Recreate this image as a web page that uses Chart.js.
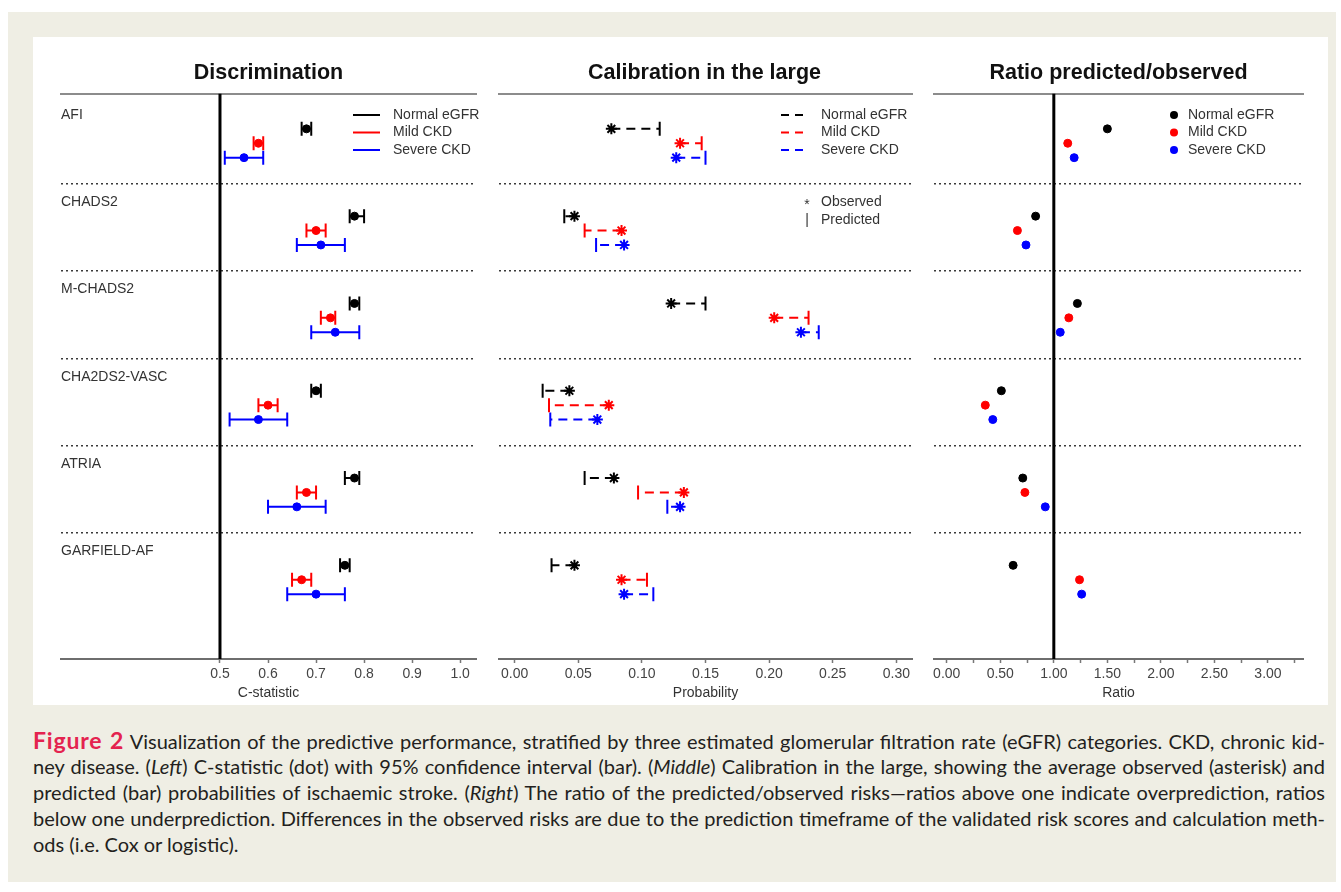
<!DOCTYPE html>
<html>
<head>
<meta charset="utf-8">
<title>Figure 2</title>
<script src="https://cdn.jsdelivr.net/npm/chart.js@4.4.1/dist/chart.umd.min.js"></script>
<style>
  html, body { margin: 0; padding: 0; background: #ffffff; }
  body { position: relative; width: 1341px; height: 892px; overflow: hidden; }
  #frame { position: absolute; left: 8px; top: 12px; width: 1328px; height: 870px; background: #efeee4; }
  #plot { position: absolute; left: 33px; top: 37px; width: 1295px; height: 668px; background: #ffffff; }
  canvas { position: absolute; top: 37px; }
  #caption {
    position: absolute; left: 33px; top: 727px; width: 1292px;
    font-family: Lato, "Open Sans", sans-serif; font-size: 20px; line-height: 26px; color: #231f20;
  }
  #caption .cl { display: block; height: 26px; }
  #caption .just, #caption .last { display: inline-block; white-space: nowrap; }
  #caption .fig { color: #e4234f; font-weight: bold; font-size: 23px; letter-spacing: 0.8px; }
</style>
</head>
<body>
<div id="frame"></div>
<div id="plot"></div>
<canvas id="discrimination" width="457" height="668" style="left:33px"></canvas>
<canvas id="calibration" width="435" height="668" style="left:490px"></canvas>
<canvas id="ratio" width="403" height="668" style="left:925px"></canvas>

<div id="caption">
  <div class="cl"><span class="just"><span class="fig">Figure 2</span> Visualization of the predictive performance, stratified by three estimated glomerular filtration rate (eGFR) categories. CKD, chronic kid-</span></div>
  <div class="cl"><span class="just">ney disease. (<i>Left</i>) C-statistic (dot) with 95% confidence interval (bar). (<i>Middle</i>) Calibration in the large, showing the average observed (asterisk) and</span></div>
  <div class="cl"><span class="just">predicted (bar) probabilities of ischaemic stroke. (<i>Right</i>) The ratio of the predicted/observed risks—ratios above one indicate overprediction, ratios</span></div>
  <div class="cl"><span class="just">below one underprediction. Differences in the observed risks are due to the prediction timeframe of the validated risk scores and calculation meth-</span></div>
  <div class="cl"><span class="last">ods (i.e. Cox or logistic).</span></div>
</div>

<script>
// ---- data ----
const SCORES = ["AFI", "CHADS2", "M-CHADS2", "CHA2DS2-VASC", "ATRIA", "GARFIELD-AF"];
const GROUPS = ["Normal eGFR", "Mild CKD", "Severe CKD"];
const GROUP_COLORS = ["#000000", "#ff0000", "#0000ff"];

// Discrimination: C-statistic and 95% CI
const cstatNormal = [0.68, 0.78, 0.78, 0.70, 0.78, 0.76];
const cstatNormalLow = [0.67, 0.77, 0.77, 0.69, 0.76, 0.75];
const cstatNormalHigh = [0.69, 0.80, 0.79, 0.71, 0.79, 0.77];
const cstatMild = [0.58, 0.70, 0.73, 0.60, 0.68, 0.67];
const cstatMildLow = [0.57, 0.68, 0.71, 0.58, 0.66, 0.65];
const cstatMildHigh = [0.59, 0.72, 0.74, 0.62, 0.70, 0.69];
const cstatSevere = [0.55, 0.71, 0.74, 0.58, 0.66, 0.70];
const cstatSevereLow = [0.51, 0.66, 0.69, 0.52, 0.60, 0.64];
const cstatSevereHigh = [0.59, 0.76, 0.79, 0.64, 0.72, 0.76];

// Calibration in the large: observed (asterisk) and predicted (bar end)
const observedNormal = [0.076, 0.047, 0.123, 0.043, 0.078, 0.047];
const predictedNormal = [0.114, 0.039, 0.150, 0.022, 0.055, 0.029];
const observedMild = [0.130, 0.084, 0.204, 0.074, 0.133, 0.084];
const predictedMild = [0.147, 0.055, 0.231, 0.027, 0.097, 0.104];
const observedSevere = [0.127, 0.086, 0.225, 0.065, 0.130, 0.086];
const predictedSevere = [0.150, 0.064, 0.239, 0.028, 0.120, 0.109];

// Ratio predicted/observed
const ratioNormal = [1.50, 0.83, 1.22, 0.51, 0.71, 0.62];
const ratioMild = [1.13, 0.66, 1.14, 0.36, 0.73, 1.24];
const ratioSevere = [1.19, 0.74, 1.06, 0.43, 0.92, 1.26];

// tick values and labels
const C_TICKS = [0.5, 0.6, 0.7, 0.8, 0.9, 1.0];
const PROB_TICKS = [0, 0.05, 0.10, 0.15, 0.20, 0.25, 0.30];
const RATIO_TICKS = [0, 0.25, 0.5, 0.75, 1.0, 1.25, 1.5, 1.75, 2.0, 2.25, 2.5, 2.75, 3.0, 3.25];
const RATIO_TICK_LABELS = ["0.00", "", "0.50", "", "1.00", "", "1.50", "", "2.00", "", "2.50", "", "3.00", ""];

const C_REFERENCE = 0.5;
const RATIO_REFERENCE = 1.0;

// ---- layout / style ----
const FONT = '"Liberation Sans", Arial, Helvetica, sans-serif';
const TEXT_COLOR = "#333333";
const Y_MIN = -0.035;
const Y_MAX = 6.443;
const ROW_OFFSETS = [0.37, 0.535, 0.70]; // black / red / blue inside a row

Chart.defaults.font.family = FONT;

const cstat = [cstatNormal, cstatMild, cstatSevere];
const cstatLow = [cstatNormalLow, cstatMildLow, cstatSevereLow];
const cstatHigh = [cstatNormalHigh, cstatMildHigh, cstatSevereHigh];
const observed = [observedNormal, observedMild, observedSevere];
const predicted = [predictedNormal, predictedMild, predictedSevere];
const ratio = [ratioNormal, ratioMild, ratioSevere];

function rowY(row, group) {
  return row + ROW_OFFSETS[group];
}

function xAxis(min, max, ticks, label, title) {
  return {
    type: "linear",
    position: "bottom",
    min,
    max,
    afterBuildTicks(scale) {
      scale.ticks = ticks.map((v) => ({ value: v }));
    },
    afterFit(scale) {
      scale.height = 46;
      scale.paddingLeft = 0;
      scale.paddingRight = 0;
    },
    ticks: {
      autoSkip: false,
      maxRotation: 0,
      padding: 3,
      color: "#444444",
      font: { size: 14 },
      callback: (value, index) => label(index)
    },
    grid: { drawOnChartArea: false, drawTicks: true, tickLength: 4, tickColor: "#777777", tickWidth: 1.5 },
    border: { display: true, color: "#6e6e6e", width: 2 },
    title: { display: true, text: title, color: TEXT_COLOR, font: { size: 14 }, padding: { top: 0, bottom: 3 } }
  };
}

function topAxis(min, max) {
  return {
    type: "linear",
    position: "top",
    min,
    max,
    afterFit(scale) {
      scale.height = 0;
    },
    ticks: { display: false },
    grid: { display: false },
    border: { display: true, color: "#8c8c8c", width: 2 }
  };
}

function yAxis() {
  return {
    type: "linear",
    reverse: true,
    min: Y_MIN,
    max: Y_MAX,
    afterBuildTicks(scale) {
      scale.ticks = SCORES.slice(1).map((_, i) => ({ value: i + 1 }));
    },
    afterFit(scale) {
      scale.width = 0;
    },
    ticks: { display: false },
    grid: { drawTicks: false, color: "#3a3a3a", lineWidth: 1.6 },
    border: { display: false, dash: [2, 3] }
  };
}

function baseOptions(title, padLeft, padRight, x) {
  return {
    responsive: false,
    animation: false,
    events: [],
    layout: { padding: { left: padLeft, right: padRight, top: 0, bottom: 0 } },
    plugins: {
      legend: { display: false },
      tooltip: { enabled: false },
      title: {
        display: true,
        text: title,
        color: "#111111",
        font: { size: 21.5, weight: "bold" },
        padding: { top: 23.5, bottom: 7.2 }
      }
    },
    scales: {
      x,
      xTop: topAxis(x.min, x.max),
      y: yAxis()
    }
  };
}

function referenceLine(value) {
  return {
    data: [{ x: value, y: Y_MIN }, { x: value, y: Y_MAX }],
    showLine: true,
    borderColor: "#000000",
    borderWidth: 3,
    pointRadius: 0,
    order: 5
  };
}

// text drawn over the panel: row labels and the little legend
function panelTextPlugin(withRows, drawLegend) {
  return {
    id: "panelText",
    afterDraw(chart) {
      const { ctx, chartArea, scales } = chart;
      ctx.save();
      ctx.font = "14px " + FONT;
      ctx.textBaseline = "middle";
      ctx.textAlign = "left";
      ctx.fillStyle = TEXT_COLOR;
      if (withRows) {
        SCORES.forEach((s, i) => {
          ctx.fillText(s, chartArea.left, scales.y.getPixelForValue(i + 0.21));
        });
      }
      drawLegend(ctx, chartArea);
      ctx.restore();
    }
  };
}

function legendY(area, k) {
  return area.top + 21.5 + 17.5 * k;
}

// ---- Discrimination ----
const discDatasets = [];
GROUPS.forEach((g, k) => {
  discDatasets.push({
    label: g,
    data: SCORES.map((_, i) => ({ x: cstat[k][i], y: rowY(i, k) })),
    pointRadius: 4,
    pointBackgroundColor: GROUP_COLORS[k],
    pointBorderColor: GROUP_COLORS[k],
    pointBorderWidth: 1,
    order: 0
  });
  SCORES.forEach((_, i) => {
    discDatasets.push({
      data: [{ x: cstatLow[k][i], y: rowY(i, k) }, { x: cstatHigh[k][i], y: rowY(i, k) }],
      showLine: true,
      borderColor: GROUP_COLORS[k],
      borderWidth: 2,
      pointStyle: "line",
      pointRotation: 90,
      pointRadius: 7,
      pointBorderWidth: 2,
      pointBorderColor: GROUP_COLORS[k],
      order: 1
    });
  });
});
discDatasets.push(referenceLine(C_REFERENCE));

new Chart(document.getElementById("discrimination"), {
  type: "scatter",
  data: { datasets: discDatasets },
  options: baseOptions("Discrimination", 28, 14,
    xAxis(0.169, 1.033, C_TICKS, (i) => C_TICKS[i].toFixed(1), "C-statistic")),
  plugins: [panelTextPlugin(true, (ctx, area) => {
    GROUPS.forEach((g, k) => {
      const y = legendY(area, k);
      ctx.strokeStyle = GROUP_COLORS[k];
      ctx.lineWidth = 2;
      ctx.beginPath();
      ctx.moveTo(area.right - 123, y);
      ctx.lineTo(area.right - 96, y);
      ctx.stroke();
      ctx.fillText(g, area.right - 83, y);
    });
  })]
});

// ---- Calibration in the large ----
const calDatasets = [];
GROUPS.forEach((g, k) => {
  SCORES.forEach((_, i) => {
    calDatasets.push({
      label: g,
      data: [{ x: observed[k][i], y: rowY(i, k) }, { x: predicted[k][i], y: rowY(i, k) }],
      showLine: true,
      borderColor: GROUP_COLORS[k],
      borderWidth: 2,
      borderDash: [9, 6],
      pointStyle: ["star", "line"],
      pointRotation: [0, 90],
      pointRadius: [5.5, 7],
      pointBorderWidth: 2,
      pointBorderColor: GROUP_COLORS[k],
      pointBackgroundColor: GROUP_COLORS[k]
    });
  });
});

new Chart(document.getElementById("calibration"), {
  type: "scatter",
  data: { datasets: calDatasets },
  options: baseOptions("Calibration in the large", 7, 13,
    xAxis(-0.0123, 0.3123, PROB_TICKS, (i) => PROB_TICKS[i].toFixed(2), "Probability")),
  plugins: [panelTextPlugin(false, (ctx, area) => {
    GROUPS.forEach((g, k) => {
      const y = legendY(area, k);
      ctx.strokeStyle = GROUP_COLORS[k];
      ctx.lineWidth = 2;
      ctx.setLineDash([8, 6]);
      ctx.beginPath();
      ctx.moveTo(area.right - 131, y);
      ctx.lineTo(area.right - 109, y);
      ctx.stroke();
      ctx.setLineDash([]);
      ctx.fillText(g, area.right - 91, y);
    });
    const yObs = area.top + 109;
    const yPred = area.top + 126.5;
    ctx.textAlign = "center";
    ctx.fillText("*", area.right - 105, yObs + 3);
    ctx.fillText("|", area.right - 105, yPred);
    ctx.textAlign = "left";
    ctx.fillText("Observed", area.right - 91, yObs);
    ctx.fillText("Predicted", area.right - 91, yPred);
  })]
});

// ---- Ratio predicted/observed ----
const ratioDatasets = GROUPS.map((g, k) => ({
  label: g,
  data: SCORES.map((_, i) => ({ x: ratio[k][i], y: rowY(i, k) })),
  pointRadius: 4,
  pointBackgroundColor: GROUP_COLORS[k],
  pointBorderColor: GROUP_COLORS[k],
  pointBorderWidth: 1,
  order: 0
}));
ratioDatasets.push(referenceLine(RATIO_REFERENCE));

new Chart(document.getElementById("ratio"), {
  type: "scatter",
  data: { datasets: ratioDatasets },
  options: baseOptions("Ratio predicted/observed", 9, 25,
    xAxis(-0.119, 3.327, RATIO_TICKS, (i) => RATIO_TICK_LABELS[i], "Ratio")),
  plugins: [panelTextPlugin(false, (ctx, area) => {
    GROUPS.forEach((g, k) => {
      const y = legendY(area, k);
      ctx.fillStyle = GROUP_COLORS[k];
      ctx.beginPath();
      ctx.arc(area.right - 129, y, 4, 0, Math.PI * 2);
      ctx.fill();
      ctx.fillStyle = TEXT_COLOR;
      ctx.fillText(g, area.right - 115, y);
    });
  })]
});

// caption lines are justified to the full width like the printed figure
function justifyCaption() {
  const box = document.getElementById("caption");
  const full = box.clientWidth;
  box.querySelectorAll(".just").forEach((line) => {
    line.style.wordSpacing = "0px";
    const spaces = (line.textContent.match(/ /g) || []).length;
    const w = line.getBoundingClientRect().width;
    if (spaces) line.style.wordSpacing = ((full - w) / spaces) + "px";
  });
}
justifyCaption();
if (document.fonts && document.fonts.ready) document.fonts.ready.then(justifyCaption);
</script>
</body>
</html>
